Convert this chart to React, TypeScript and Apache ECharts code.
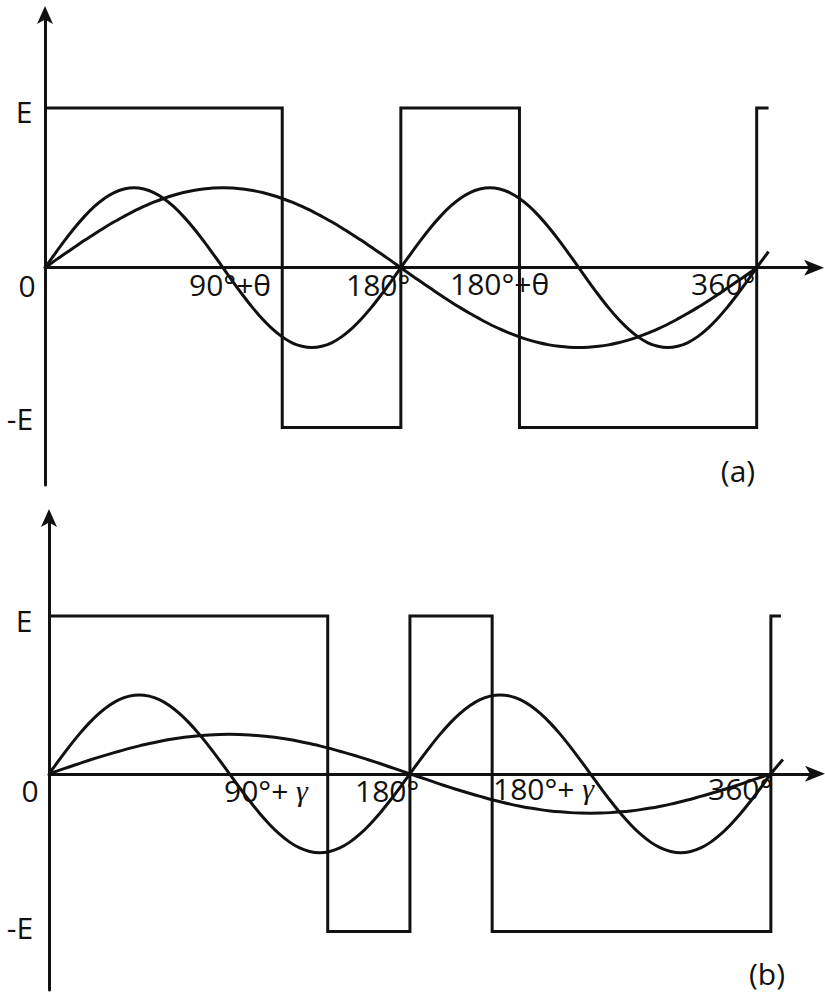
import React, { useEffect, useRef } from "react";
import * as echarts from "echarts";

// Phase angles (degrees) at which curve values were read
const angles = [
  0, 5, 10, 15, 20, 25, 30, 35, 40, 45, 50, 55, 60, 65, 70, 75, 80, 85, 90,
  95, 100, 105, 110, 115, 120, 125, 130, 135, 140, 145, 150, 155, 160, 165, 170, 175, 180,
  185, 190, 195, 200, 205, 210, 215, 220, 225, 230, 235, 240, 245, 250, 255, 260, 265, 270,
  275, 280, 285, 290, 295, 300, 305, 310, 315, 320, 325, 330, 335, 340, 345, 350, 355, 360,
];

// Panel (a): values in units of E
const aFundamental = [
  0, 0.044, 0.087, 0.129, 0.171, 0.211, 0.25, 0.287, 0.321, 0.354, 0.383, 0.41, 0.433, 0.453, 0.47, 0.483, 0.492, 0.498, 0.5,
  0.498, 0.492, 0.483, 0.47, 0.453, 0.433, 0.41, 0.383, 0.354, 0.321, 0.287, 0.25, 0.211, 0.171, 0.129, 0.087, 0.044, 0,
  -0.044, -0.087, -0.129, -0.171, -0.211, -0.25, -0.287, -0.321, -0.354, -0.383, -0.41, -0.433, -0.453, -0.47, -0.483, -0.492, -0.498, -0.5,
  -0.498, -0.492, -0.483, -0.47, -0.453, -0.433, -0.41, -0.383, -0.354, -0.321, -0.287, -0.25, -0.211, -0.171, -0.129, -0.087, -0.044, 0,
];
const aHarmonic = [
  0, 0.087, 0.171, 0.25, 0.321, 0.383, 0.433, 0.47, 0.492, 0.5, 0.492, 0.47, 0.433, 0.383, 0.321, 0.25, 0.171, 0.087, 0,
  -0.087, -0.171, -0.25, -0.321, -0.383, -0.433, -0.47, -0.492, -0.5, -0.492, -0.47, -0.433, -0.383, -0.321, -0.25, -0.171, -0.087, 0,
  0.087, 0.171, 0.25, 0.321, 0.383, 0.433, 0.47, 0.492, 0.5, 0.492, 0.47, 0.433, 0.383, 0.321, 0.25, 0.171, 0.087, 0,
  -0.087, -0.171, -0.25, -0.321, -0.383, -0.433, -0.47, -0.492, -0.5, -0.492, -0.47, -0.433, -0.383, -0.321, -0.25, -0.171, -0.087, 0,
];
const aHarmonicTail = [366, 0.1];
const aSquareX = [0, 120, 120, 180, 180, 240, 240, 360, 360, 366];
const aSquareY = [1, 1, -1, -1, 1, 1, -1, -1, 1, 1];

// Panel (b)
const bFundamental = [
  0, 0.022, 0.043, 0.065, 0.086, 0.106, 0.125, 0.143, 0.161, 0.177, 0.192, 0.205, 0.217, 0.227, 0.235, 0.241, 0.246, 0.249, 0.25,
  0.249, 0.246, 0.241, 0.235, 0.227, 0.217, 0.205, 0.192, 0.177, 0.161, 0.143, 0.125, 0.106, 0.086, 0.065, 0.043, 0.022, 0,
  -0.022, -0.043, -0.065, -0.086, -0.106, -0.125, -0.143, -0.161, -0.177, -0.192, -0.205, -0.217, -0.227, -0.235, -0.241, -0.246, -0.249, -0.25,
  -0.249, -0.246, -0.241, -0.235, -0.227, -0.217, -0.205, -0.192, -0.177, -0.161, -0.143, -0.125, -0.106, -0.086, -0.065, -0.043, -0.022, 0,
];
const bHarmonic = [
  0, 0.087, 0.171, 0.25, 0.321, 0.383, 0.433, 0.47, 0.492, 0.5, 0.492, 0.47, 0.433, 0.383, 0.321, 0.25, 0.171, 0.087, 0,
  -0.087, -0.171, -0.25, -0.321, -0.383, -0.433, -0.47, -0.492, -0.5, -0.492, -0.47, -0.433, -0.383, -0.321, -0.25, -0.171, -0.087, 0,
  0.087, 0.171, 0.25, 0.321, 0.383, 0.433, 0.47, 0.492, 0.5, 0.492, 0.47, 0.433, 0.383, 0.321, 0.25, 0.171, 0.087, 0,
  -0.087, -0.171, -0.25, -0.321, -0.383, -0.433, -0.47, -0.492, -0.5, -0.492, -0.47, -0.433, -0.383, -0.321, -0.25, -0.171, -0.087, 0,
];
const bHarmonicTail = [366, 0.09];
const bSquareX = [0, 139, 139, 180, 180, 221, 221, 360, 360, 365];
const bSquareY = [1, 1, -1, -1, 1, 1, -1, -1, 1, 1];

// Text labels
const aLabels = ["E", "-E", "0", "90°+θ", "180°", "180°+θ", "360°", "(a)"];
const bLabels = ["E", "-E", "0", "90°+ {g|γ}", "180°", "180°+ {g|γ}", "360°", "(b)"];

const INK = "#111";
const FONT = "'Open Sans', 'DejaVu Sans', sans-serif";

function pairs(xs: number[], ys: number[]) {
  return xs.map((x, i) => [x, ys[i]]);
}

function axisPair(gridIndex: number, xMax: number, yMin: number, yMax: number) {
  const x = {
    type: "value",
    gridIndex,
    min: 0,
    max: xMax,
    axisLine: {
      show: true,
      onZero: true,
      symbol: ["none", "arrow"],
      symbolSize: [12, 20],
      symbolOffset: [0, 8],
      lineStyle: { color: INK, width: 3 },
    },
    axisTick: { show: false },
    axisLabel: { show: false },
    splitLine: { show: false },
  };
  const y = {
    type: "value",
    gridIndex,
    min: yMin,
    max: yMax,
    axisLine: {
      show: true,
      onZero: true,
      symbol: ["none", "arrow"],
      symbolSize: [12, 18],
      symbolOffset: [0, 6],
      lineStyle: { color: INK, width: 3 },
    },
    axisTick: { show: false },
    axisLabel: { show: false },
    splitLine: { show: false },
  };
  return { x, y };
}

function lineSeries(idx: number, data: number[][], smooth: boolean) {
  return {
    type: "line",
    xAxisIndex: idx,
    yAxisIndex: idx,
    data,
    smooth: smooth ? 0.3 : false,
    showSymbol: false,
    symbol: "none",
    clip: false,
    lineStyle: { color: INK, width: 3, join: "miter" },
    z: 3,
  };
}

function txt(text: string, x: number, y: number, align = "left") {
  return {
    type: "text",
    x,
    y,
    z: 1,
    style: {
      text,
      fill: INK,
      fontSize: 30,
      fontFamily: FONT,
      textAlign: align,
      textVerticalAlign: "middle",
      rich: {
        g: { fontSize: 30, fontFamily: "'Liberation Serif', 'DejaVu Serif', serif", fontStyle: "italic", fill: INK },
      },
    },
  };
}

export default function App() {
  const ref = useRef<HTMLDivElement>(null);
  useEffect(() => {
    document.body.style.margin = "0";
    const chart = echarts.init(ref.current!, null, { renderer: "svg" });
    const a = axisPair(0, 390, -1.36, 1.6);
    const b = axisPair(1, 383, -1.37, 1.64);

    const aPos = [
      [24, 111, "center"], [20, 418, "center"], [27, 285, "center"],
      [189, 284, "left"], [346, 284, "left"], [450, 283, "left"],
      [691, 283, "left"], [738, 470, "center"],
    ];
    const bPos = [
      [24, 620, "center"], [20, 927, "center"], [30, 790, "center"],
      [224, 790, "left"], [355, 790, "left"], [493, 788, "left"],
      [708, 788, "left"], [767, 973, "center"],
    ];

    chart.setOption({
      animation: false,
      backgroundColor: "#fff",
      grid: [
        { left: 45, top: 12, width: 771, height: 473 },
        { left: 49, top: 515, width: 768, height: 475 },
      ],
      xAxis: [a.x, b.x],
      yAxis: [a.y, b.y],
      series: [
        lineSeries(0, pairs(aSquareX, aSquareY), false),
        lineSeries(0, pairs(angles, aFundamental), true),
        lineSeries(0, [...pairs(angles, aHarmonic), aHarmonicTail], true),
        lineSeries(1, pairs(bSquareX, bSquareY), false),
        lineSeries(1, pairs(angles, bFundamental), true),
        lineSeries(1, [...pairs(angles, bHarmonic), bHarmonicTail], true),
      ],
      graphic: [
        ...aLabels.map((t, i) => txt(t, aPos[i][0] as number, aPos[i][1] as number, aPos[i][2] as string)),
        ...bLabels.map((t, i) => txt(t, bPos[i][0] as number, bPos[i][1] as number, bPos[i][2] as string)),
      ],
    });
    return () => chart.dispose();
  }, []);
  return <div ref={ref} style={{ width: 825, height: 1000 }} />;
}
